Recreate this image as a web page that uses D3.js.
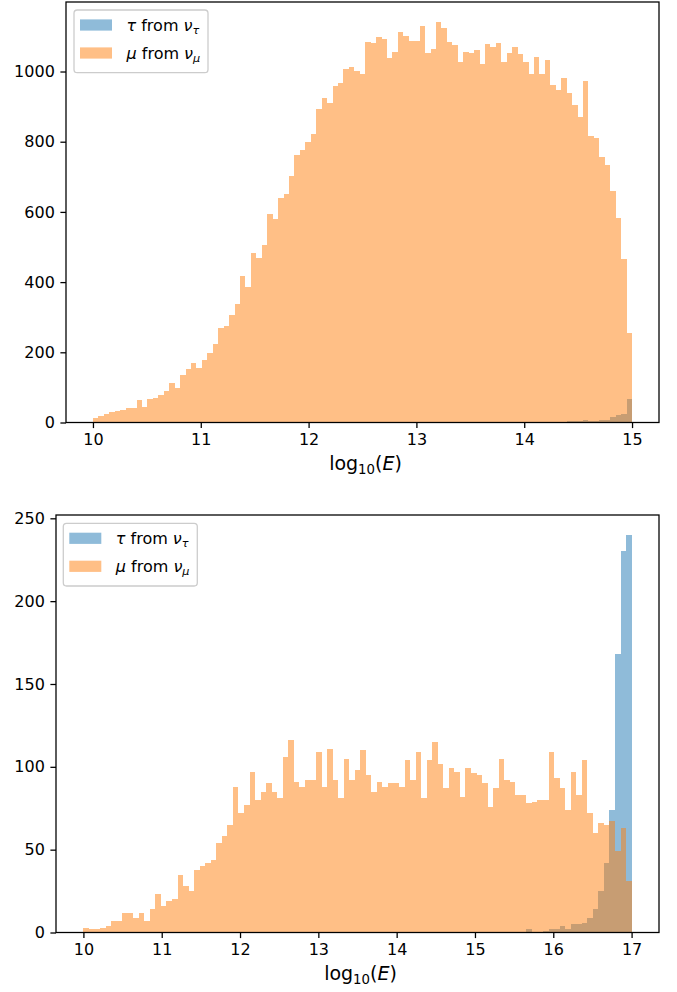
<!DOCTYPE html>
<html>
<head>
<meta charset="utf-8">
<script src="https://cdn.jsdelivr.net/npm/d3@7"></script>
<style>
  body { margin: 0; background: #fff; }
  svg text { font-family: "DejaVu Sans", sans-serif; fill: #000; }
</style>
</head>
<body>
<svg id="fig" width="677" height="992"></svg>
<script>
// ---- Upper panel: log10(E) histogram, 99 equal bins over [10, 15] ----
const topRange = [10, 15];
const topTauCounts = [
  0, 0, 0, 0, 0, 0, 0, 0, 0, 0, 0, 0, 0, 0, 0, 0, 0, 0, 0, 0,
  0, 0, 0, 0, 0, 0, 0, 0, 0, 0, 0, 0, 0, 0, 0, 0, 0, 0, 0, 0,
  0, 0, 0, 0, 0, 0, 0, 0, 0, 0, 0, 0, 0, 0, 0, 0, 0, 0, 0, 0,
  0, 0, 0, 0, 0, 0, 0, 0, 0, 0, 0, 0, 0, 0, 0, 0, 0, 0, 0, 0,
  0, 0, 0, 0, 1, 2, 2, 4, 5, 5, 6, 4, 4, 7, 7, 16, 20, 24, 67
];
const topMuCounts = [
  14, 18, 25, 30, 34, 37, 41, 41, 65, 44, 67, 70, 79, 91, 112, 98, 136, 152, 170, 154,
  178, 199, 224, 269, 275, 305, 338, 418, 386, 483, 470, 507, 594, 579, 639, 651, 702, 762, 777, 798,
  823, 892, 925, 910, 960, 966, 1008, 1014, 1002, 994, 1083, 1081, 1099, 1093, 1039, 1056, 1114, 1100, 1088, 1088,
  1131, 1053, 1065, 1141, 1123, 1083, 1075, 1026, 1056, 1054, 1062, 1021, 1078, 1069, 1080, 1026, 1054, 1069, 1051, 1026,
  994, 1040, 993, 1033, 961, 946, 981, 940, 906, 870, 973, 817, 811, 757, 735, 659, 584, 465, 256
];
const topXTicks = [10, 11, 12, 13, 14, 15];
const topYTicks = [0, 200, 400, 600, 800, 1000];

// ---- Lower panel: log10(E) histogram, 99 equal bins over [10, 17] ----
const bottomRange = [10, 17];
const bottomTauCounts = [
  0, 0, 0, 0, 0, 0, 0, 0, 0, 0, 0, 0, 0, 0, 0, 0, 0, 0, 0, 0,
  0, 0, 0, 0, 0, 0, 0, 0, 0, 0, 0, 0, 0, 0, 0, 0, 0, 0, 0, 0,
  0, 0, 0, 0, 0, 0, 0, 0, 0, 0, 0, 0, 0, 0, 0, 0, 0, 0, 0, 0,
  0, 0, 0, 0, 0, 0, 0, 0, 0, 0, 0, 0, 0, 0, 0, 0, 0, 0, 0, 0,
  2, 0, 0, 1, 2, 2, 4, 2, 5, 5, 6, 9, 14, 25, 42, 74, 168, 230, 240
];
const bottomMuCounts = [
  3, 2, 2, 3, 4, 7, 7, 12, 12, 9, 12, 7, 14, 23, 16, 19, 20, 35, 28, 25,
  38, 40, 42, 44, 54, 58, 65, 88, 72, 77, 97, 80, 85, 90, 85, 81, 106, 116, 91, 88,
  92, 92, 109, 88, 111, 92, 81, 105, 92, 98, 110, 95, 85, 91, 88, 90, 90, 88, 104, 92,
  109, 81, 104, 115, 102, 87, 99, 97, 82, 99, 96, 95, 90, 76, 87, 105, 92, 91, 83, 83,
  78, 79, 80, 80, 109, 93, 87, 74, 97, 83, 104, 72, 60, 66, 65, 67, 49, 63, 31
];
const bottomXTicks = [10, 11, 12, 13, 14, 15, 16, 17];
const bottomYTicks = [0, 50, 100, 150, 200, 250];

const seriesLabels = ["tau", "mu"];
const seriesColors = ["#1f77b4", "#ff7f0e"];

const svg = d3.select("#fig");
const FONT = 16;        // tick and legend text
const LABEL_FONT = 19;  // axis label
const LW = 1.28;        // spine / tick line width
const TICK = 5.6;       // tick length
const PAD = 5.6;        // tick label padding

function drawPanel(box, range, seriesList, xTicks, yTicks, legendBox) {
  const nBins = seriesList[0].length;
  const span = range[1] - range[0];
  const x = d3.scaleLinear()
    .domain([range[0] - 0.05 * span, range[1] + 0.05 * span])
    .range([box.left, box.right]);
  const yMax = d3.max(seriesList.flat()) * 1.05;
  const y = d3.scaleLinear().domain([0, yMax]).range([box.bottom, box.top]);
  const edges = d3.range(nBins + 1).map(i => range[0] + span * i / nBins);

  const g = svg.append("g");
  const clipId = "clip" + Math.round(box.top);
  g.append("clipPath").attr("id", clipId)
    .append("rect").attr("x", box.left).attr("y", box.top)
    .attr("width", box.right - box.left).attr("height", box.bottom - box.top);

  const plot = g.append("g").attr("clip-path", `url(#${clipId})`);
  seriesList.forEach((counts, s) => {
    const bins = counts.map((c, i) => ({ c, x0: edges[i], x1: edges[i + 1] }))
      .filter(d => d.c > 0);
    plot.append("g")
      .attr("fill", seriesColors[s])
      .attr("fill-opacity", 0.5)
      .attr("shape-rendering", "crispEdges")
      .selectAll("rect").data(bins).join("rect")
      .attr("x", d => Math.round(x(d.x0)))
      .attr("width", d => Math.round(x(d.x1)) - Math.round(x(d.x0)))
      .attr("y", d => Math.round(y(d.c)))
      .attr("height", d => Math.round(y(0)) - Math.round(y(d.c)));
  });

  // axes
  const xAxis = g.append("g")
    .attr("transform", `translate(0,${box.bottom})`)
    .call(d3.axisBottom(x).tickValues(xTicks).tickSize(TICK).tickPadding(PAD)
      .tickFormat(d3.format("d")));
  const yAxis = g.append("g")
    .attr("transform", `translate(${box.left},0)`)
    .call(d3.axisLeft(y).tickValues(yTicks).tickSize(TICK).tickPadding(PAD)
      .tickFormat(d3.format("d")));
  [xAxis, yAxis].forEach(a => {
    a.select(".domain").remove();
    a.attr("font-size", FONT).attr("font-family", "DejaVu Sans, sans-serif");
    a.selectAll("line").attr("stroke", "#000").attr("stroke-width", LW);
    a.selectAll("text").attr("fill", "#000");
  });

  // frame
  g.append("rect")
    .attr("x", box.left).attr("y", box.top)
    .attr("width", box.right - box.left).attr("height", box.bottom - box.top)
    .attr("fill", "none").attr("stroke", "#000").attr("stroke-width", LW);

  // x label: log10(E)
  const xl = g.append("text")
    .attr("x", (box.left + box.right) / 2 + 3)
    .attr("y", box.bottom + 47)
    .attr("text-anchor", "middle")
    .attr("font-size", LABEL_FONT);
  xl.append("tspan").text("log");
  xl.append("tspan").attr("font-size", LABEL_FONT * 0.7).attr("dy", 4).text("10");
  xl.append("tspan").attr("dy", -4).text("(");
  xl.append("tspan").attr("font-style", "italic").text("E");
  xl.append("tspan").text(")");

  // legend
  const lg = g.append("g");
  lg.append("rect")
    .attr("x", legendBox.x).attr("y", legendBox.y)
    .attr("width", 134).attr("height", 62.7)
    .attr("rx", 3.2).attr("ry", 3.2)
    .attr("fill", "#fff").attr("fill-opacity", 0.8)
    .attr("stroke", "#cccccc").attr("stroke-width", 1.28);
  const greek = { tau: ["τ", "τ"], mu: ["μ", "μ"] };
  seriesLabels.forEach((key, s) => {
    const rowY = legendBox.y + 15 + s * 28;
    lg.append("rect")
      .attr("x", legendBox.x + 6).attr("y", rowY - 5.6)
      .attr("width", 32).attr("height", 11.2)
      .attr("fill", seriesColors[s]).attr("fill-opacity", 0.5);
    const t = lg.append("text")
      .attr("x", legendBox.x + 52.5).attr("y", rowY + 5.5)
      .attr("font-size", FONT);
    t.append("tspan").attr("font-style", "italic").text(greek[key][0]);
    t.append("tspan").text(" from ");
    t.append("tspan").attr("font-style", "italic").text("ν");
    t.append("tspan").attr("font-style", "italic").attr("font-size", FONT * 0.7)
      .attr("dy", 3.2).text(greek[key][1]);
  });
}

drawPanel({ left: 66, right: 659, top: 2, bottom: 422.5 },
  topRange, [topTauCounts, topMuCounts], topXTicks, topYTicks, { x: 74, y: 10 });
drawPanel({ left: 56, right: 659, top: 515, bottom: 932.5 },
  bottomRange, [bottomTauCounts, bottomMuCounts], bottomXTicks, bottomYTicks, { x: 63.3, y: 523.3 });
</script>
</body>
</html>
